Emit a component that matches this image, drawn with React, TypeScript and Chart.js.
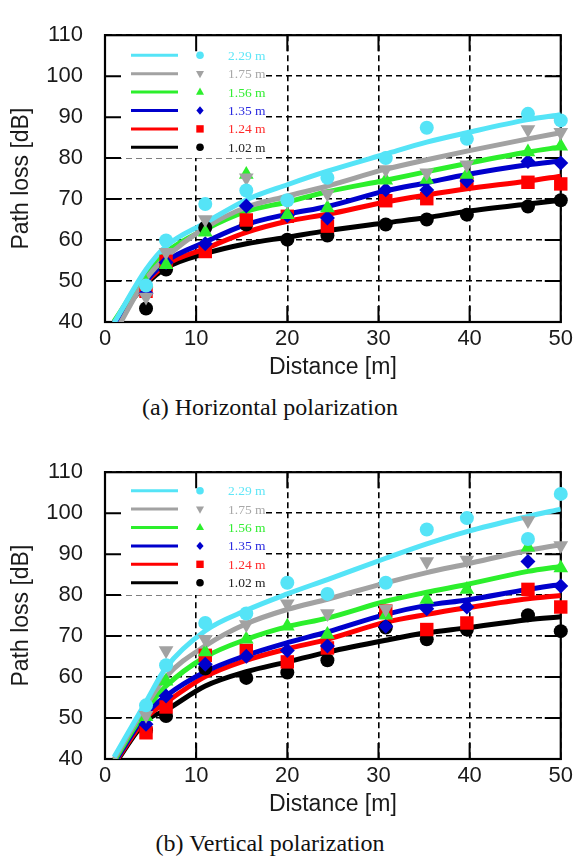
import React, { useEffect, useRef } from 'react';
import { Chart, registerables } from 'chart.js';

Chart.register(...registerables);

// ---------- data ----------
const heightLabels = ['2.29 m', '1.75 m', '1.56 m', '1.35 m', '1.24 m', '1.02 m'];
const lineColors = ['#55e4f7', '#a2a2a2', '#2cef2c', '#0000cc', '#ff0000', '#000000'];
const textColors = ['#5fe6f7', '#a8a8a8', '#33ee33', '#2a2ae0', '#ff2a2a', '#222222'];
const markerKinds = ['circle', 'triangleDown', 'triangle', 'diamond', 'square', 'circle'];

const xTicks = [0, 10, 20, 30, 40, 50];
const yTicks = [40, 50, 60, 70, 80, 90, 100, 110];

const measDist = [4.5, 6.7, 11, 15.5, 20, 24.4, 30.8, 35.3, 39.7, 46.4, 50];
const fitDist = [1, 4.5, 6.7, 11, 15.5, 20, 24.4, 30.8, 35.3, 39.7, 46.4, 50];

// (a) Horizontal polarization - measured
const hMeas229 = [48.9, 59.9, 68.8, 72.1, 69.7, 75.2, 80.0, 87.4, 84.7, 90.8, 89.2];
const hMeas175 = [46.1, 57.0, 65.0, 75.2, 69.5, 71.3, 77.2, 76.4, 78.4, 87.0, 86.3];
const hMeas156 = [49.5, 54.0, 61.9, 76.0, 66.2, 67.8, 74.6, 74.8, 76.0, 81.5, 82.9];
const hMeas135 = [47.0, 54.5, 59.1, 68.3, 66.0, 65.4, 72.3, 72.2, 74.4, 79.2, 78.8];
const hMeas124 = [47.5, 54.8, 57.2, 64.9, 65.8, 63.4, 69.6, 70.1, 73.9, 74.1, 73.7];
const hMeas102 = [43.3, 52.8, 63.0, 63.8, 60.1, 61.1, 63.8, 65.0, 66.2, 68.2, 69.7];
// (a) fitted curves
const hFit229 = [39.8, 52.8, 58.5, 64.2, 69.8, 73.5, 76.8, 81.0, 83.9, 86.2, 89.4, 90.6];
const hFit175 = [37.0, 50.5, 55.8, 63.0, 68.0, 70.7, 73.2, 77.3, 79.6, 81.7, 84.7, 86.2];
const hFit156 = [40.2, 51.8, 57.0, 62.6, 67.0, 69.3, 71.8, 74.6, 76.7, 78.7, 81.5, 82.7];
const hFit135 = [39.5, 50.0, 54.8, 59.5, 63.8, 66.3, 68.2, 72.0, 74.0, 76.0, 78.4, 79.3];
const hFit124 = [39.5, 49.6, 54.0, 57.9, 61.9, 64.6, 66.3, 69.3, 71.0, 72.5, 74.4, 75.6];
const hFit102 = [40.0, 49.2, 53.2, 56.7, 59.1, 60.7, 62.3, 64.2, 65.5, 67.0, 68.8, 69.7];

// (b) Vertical polarization - measured
const vMeas229 = [53.1, 62.9, 73.2, 75.5, 83.0, 80.3, 83.0, 96.0, 98.8, 93.7, 104.7];
const vMeas175 = [50.7, 66.5, 69.2, 72.8, 77.9, 75.5, 76.6, 88.2, 88.6, 98.2, 92.1];
const vMeas156 = [50.3, 59.0, 66.1, 69.2, 72.4, 70.4, 75.1, 78.9, 81.4, 91.7, 86.6];
const vMeas135 = [48.5, 55.4, 63.1, 65.1, 66.5, 67.6, 72.4, 76.7, 77.1, 88.2, 82.2];
const vMeas124 = [46.4, 52.7, 65.3, 66.5, 63.7, 67.1, 76.1, 71.6, 73.2, 81.4, 77.1];
const vMeas102 = [47.0, 50.5, 62.1, 59.8, 61.1, 64.1, 72.1, 69.2, 71.6, 75.1, 71.2];
// (b) fitted curves
const vFit229 = [40.5, 54.0, 62.3, 71.3, 76.3, 80.3, 83.8, 89.0, 92.5, 95.5, 99.2, 101.0];
const vFit175 = [40.0, 53.0, 60.1, 67.6, 73.0, 76.5, 79.0, 83.0, 85.5, 87.6, 90.9, 92.3];
const vFit156 = [39.5, 52.0, 57.8, 64.9, 69.2, 72.3, 74.4, 78.5, 80.7, 82.6, 85.8, 87.0];
const vFit135 = [39.0, 51.0, 55.4, 61.3, 65.3, 68.4, 71.0, 75.3, 77.5, 78.8, 81.4, 82.6];
const vFit124 = [38.8, 50.0, 53.8, 60.1, 64.1, 66.9, 69.2, 73.4, 75.3, 76.9, 79.1, 79.9];
const vFit102 = [38.5, 49.3, 51.9, 57.8, 61.3, 63.7, 66.1, 69.0, 70.8, 72.0, 74.0, 74.7];

const panels = [
  {
    caption: '(a) Horizontal polarization',
    meas: [hMeas229, hMeas175, hMeas156, hMeas135, hMeas124, hMeas102],
    fits: [hFit229, hFit175, hFit156, hFit135, hFit124, hFit102],
  },
  {
    caption: '(b) Vertical polarization',
    meas: [vMeas229, vMeas175, vMeas156, vMeas135, vMeas124, vMeas102],
    fits: [vFit229, vFit175, vFit156, vFit135, vFit124, vFit102],
  },
];

// ---------- layout ----------
const CANVAS_W = 577;
const CANVAS_H = 390;
const PLOT_LEFT = 105;
const PLOT_RIGHT = 562.5;
const PLOT_TOP = 26;
const PLOT_BOTTOM = 322;

function markerProps(kind: string) {
  switch (kind) {
    case 'circle': return { pointStyle: 'circle', rotation: 0, radius: 7 };
    case 'triangle': return { pointStyle: 'triangle', rotation: 0, radius: 8.5 };
    case 'triangleDown': return { pointStyle: 'triangle', rotation: 180, radius: 8.5 };
    case 'diamond': return { pointStyle: 'rectRot', rotation: 0, radius: 7.5 };
    case 'square': return { pointStyle: 'rect', rotation: 0, radius: 9.5 };
    default: return { pointStyle: 'circle', rotation: 0, radius: 7 };
  }
}

function drawMarker(ctx: CanvasRenderingContext2D, kind: string, x: number, y: number) {
  ctx.beginPath();
  if (kind === 'circle') {
    ctx.arc(x, y, 3.8, 0, Math.PI * 2);
  } else if (kind === 'square') {
    ctx.rect(x - 3.7, y - 3.7, 7.4, 7.4);
  } else if (kind === 'diamond') {
    ctx.moveTo(x, y - 4.2); ctx.lineTo(x + 3.6, y); ctx.lineTo(x, y + 4.2); ctx.lineTo(x - 3.6, y);
  } else if (kind === 'triangle') {
    ctx.moveTo(x, y - 4.6); ctx.lineTo(x + 4, y + 2.6); ctx.lineTo(x - 4, y + 2.6);
  } else if (kind === 'triangleDown') {
    ctx.moveTo(x, y + 4.6); ctx.lineTo(x + 4, y - 2.6); ctx.lineTo(x - 4, y - 2.6);
  }
  ctx.closePath();
  ctx.fill();
}

const framePlugin = {
  id: 'frameAndLegendBox',
  beforeDatasetsDraw(chart: any) {
    const { ctx, chartArea: a, scales } = chart;
    ctx.save();
    ctx.fillStyle = '#ffffff';
    ctx.fillRect(a.left + 1, a.top + 1, 266 - a.left - 1, 157 - a.top);
    ctx.strokeStyle = '#000';
    ctx.lineWidth = 2;
    ctx.setLineDash([]);
    const L = 16;
    ctx.beginPath();
    yTicks.slice(1, -1).forEach((v) => {
      const py = scales.y.getPixelForValue(v);
      ctx.moveTo(a.left, py); ctx.lineTo(a.left + L, py);
      ctx.moveTo(a.right, py); ctx.lineTo(a.right - L, py);
    });
    xTicks.slice(1, -1).forEach((v) => {
      const px = scales.x.getPixelForValue(v);
      ctx.moveTo(px, a.top); ctx.lineTo(px, a.top + L);
      ctx.moveTo(px, a.bottom); ctx.lineTo(px, a.bottom - L);
    });
    ctx.stroke();
    ctx.lineWidth = 2.2;
    ctx.strokeRect(a.left, a.top, a.right - a.left, a.bottom - a.top);
    ctx.restore();
  },
  afterDatasetsDraw(chart: any) {
    const { ctx } = chart;
    ctx.save();
    const rowTop = chart.options.plugins.frameAndLegendBox.rowTop;
    heightLabels.forEach((label, i) => {
      const y = rowTop + i * 18.4;
      ctx.strokeStyle = lineColors[i];
      ctx.lineWidth = 3;
      ctx.beginPath();
      ctx.moveTo(131, y); ctx.lineTo(178, y);
      ctx.stroke();
      ctx.fillStyle = lineColors[i];
      drawMarker(ctx, markerKinds[i], 200, y);
      ctx.fillStyle = textColors[i];
      ctx.font = '13.5px "Liberation Serif", "DejaVu Serif", serif';
      ctx.textBaseline = 'middle';
      ctx.textAlign = 'left';
      ctx.fillText(label, 228, y + 1);
    });
    ctx.restore();
  },
};

function buildConfig(panel: any, rowTop: number): any {
  const datasets: any[] = [];
  panel.fits.forEach((vals: number[], i: number) => {
    datasets.push({
      label: heightLabels[i] + ' fit',
      data: fitDist.map((x, j) => ({ x, y: vals[j] })),
      showLine: true,
      borderColor: lineColors[i],
      backgroundColor: lineColors[i],
      borderWidth: 5,
      pointRadius: 0,
      cubicInterpolationMode: 'monotone',
      order: 10 + i,
    });
  });
  panel.meas.forEach((vals: number[], i: number) => {
    const m = markerProps(markerKinds[i]);
    datasets.push({
      label: heightLabels[i],
      data: measDist.map((x, j) => ({ x, y: vals[j] })),
      showLine: false,
      pointStyle: m.pointStyle,
      rotation: m.rotation,
      pointRadius: m.radius,
      backgroundColor: lineColors[i],
      borderColor: lineColors[i],
      borderWidth: 0,
      clip: false,
      order: i,
    });
  });
  const tickFont = { family: '"Liberation Sans", Arial, sans-serif', size: 22 };
  const titleFont = { family: '"Liberation Sans", Arial, sans-serif', size: 23 };
  return {
    type: 'scatter',
    data: { datasets },
    options: {
      animation: false,
      responsive: false,
      devicePixelRatio: 1,
      layout: { padding: { top: PLOT_TOP, right: CANVAS_W - PLOT_RIGHT, left: 0, bottom: 0 } },
      plugins: {
        legend: { display: false },
        tooltip: { enabled: false },
        frameAndLegendBox: { rowTop },
      },
      scales: {
        x: {
          type: 'linear',
          min: 0,
          max: 50,
          afterBuildTicks: (s: any) => { s.ticks = xTicks.map((v) => ({ value: v })); },
          afterFit: (s: any) => { s.height = CANVAS_H - PLOT_BOTTOM; },
          ticks: { font: tickFont, color: '#1a1a1a', padding: 4, maxRotation: 0 },
          grid: { color: '#000', lineWidth: 1.6, drawTicks: false },
          border: { display: true, color: '#000', width: 2, dash: [6, 4] },
          title: { display: true, text: 'Distance [m]', font: titleFont, color: '#1a1a1a', padding: { top: 0, bottom: 9 } },
        },
        y: {
          type: 'linear',
          min: 40,
          max: 110,
          afterBuildTicks: (s: any) => { s.ticks = yTicks.map((v) => ({ value: v })); },
          afterFit: (s: any) => { s.width = PLOT_LEFT; },
          ticks: { font: tickFont, color: '#1a1a1a', padding: 22 },
          grid: { color: '#000', lineWidth: 1.6, drawTicks: false },
          border: { display: true, color: '#000', width: 2, dash: [6, 4] },
          title: { display: true, text: 'Path loss [dB]', font: titleFont, color: '#1a1a1a', padding: { top: 8, bottom: 0 } },
        },
      },
    },
    plugins: [framePlugin],
  };
}

function PanelChart({ panel, top, rowTop }: { panel: any; top: number; rowTop: number }) {
  const ref = useRef<HTMLCanvasElement | null>(null);
  useEffect(() => {
    if (!ref.current) return;
    const chart = new Chart(ref.current, buildConfig(panel, rowTop));
    return () => chart.destroy();
  }, [panel, rowTop]);
  return (
    <canvas
      ref={ref}
      width={CANVAS_W}
      height={CANVAS_H}
      style={{ position: 'absolute', left: 0, top, width: CANVAS_W, height: CANVAS_H }}
    />
  );
}

const captionStyle: React.CSSProperties = {
  position: 'absolute',
  left: 0,
  width: 540,
  textAlign: 'center',
  fontFamily: '"Liberation Serif", "Times New Roman", serif',
  fontSize: 24,
  lineHeight: '28px',
  color: '#111',
  whiteSpace: 'nowrap',
};

export default function App() {
  return (
    <div style={{ position: 'absolute', left: 0, top: 0, width: 577, height: 856, background: '#fff', overflow: 'hidden' }}>
      <PanelChart panel={panels[0]} top={0} rowTop={55.3} />
      <div style={{ ...captionStyle, top: 393 }}>{panels[0].caption}</div>
      <PanelChart panel={panels[1]} top={437} rowTop={53.7} />
      <div style={{ ...captionStyle, top: 829 }}>{panels[1].caption}</div>
    </div>
  );
}
